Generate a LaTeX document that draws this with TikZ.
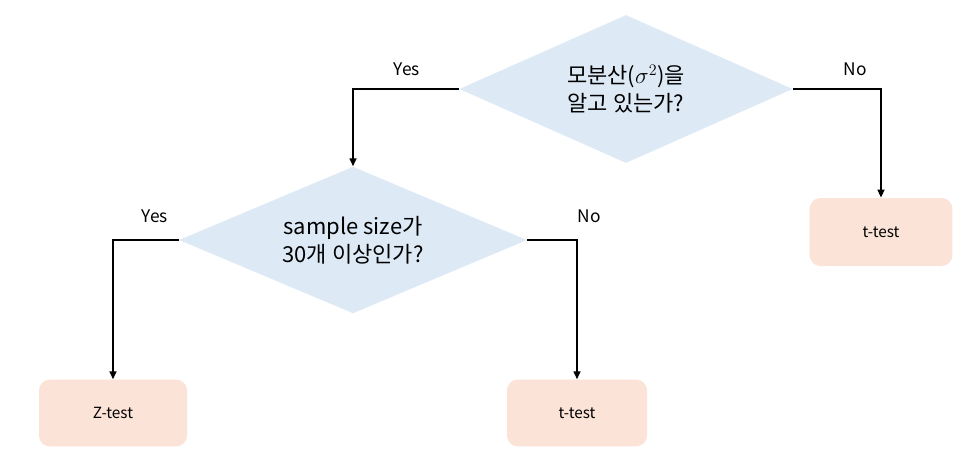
\documentclass[tikz,border=0pt]{standalone}
\usepackage{fontspec}
\setmainfont{Noto Sans CJK KR}
\usetikzlibrary{shapes.geometric,arrows.meta}
\definecolor{qblue}{HTML}{DDEAF6}
\definecolor{rpeach}{HTML}{FBE3D8}
\tikzset{
  question/.style={diamond, fill=qblue, inner sep=0pt, aspect=2.25,
    minimum width=250pt, minimum height=111pt, align=center,
    font=\fontsize{16.5}{21}\selectfont},
  result/.style={rectangle, rounded corners=8pt, fill=rpeach,
    minimum width=107pt, minimum height=51pt,
    font=\fontsize{11.5}{13}\selectfont},
  answer/.style={font=\fontsize{13}{15}\selectfont},
  flow/.style={-{Triangle[length=6pt,width=5pt]}, line width=1.5pt},
}
\begin{document}
\begin{tikzpicture}[x=0.75pt, y=-0.75pt]
                    \useasboundingbox (0,0) rectangle (978,468);
                    % Questions
                    \node[question] (q1) at (626,89) {모분산($\sigma^{2}$)을\\알고 있는가?};
                    \node[question, minimum width=261pt, minimum height=110pt] (q2) at (353,240) {sample size가\\30개 이상인가?};
                    % Results
                    \node[result] (r1) at (881,232) {t-test};
                    \node[result, minimum width=111pt, minimum height=50pt] (r2) at (113,413) {Z-test};
                    \node[result, minimum width=105pt, minimum height=50pt] (r3) at (577,413) {t-test};
                    % Answers
                    \node[answer] (y1) at (407,69) {Yes};
                    \node[answer] (n1) at (855,69) {No};
                    \node[answer] (y2) at (155,216) {Yes};
                    \node[answer] (n2) at (589,216) {No};
                    % Arrows
                    \draw[flow] (q1.west) -| (q2.north);
                    \draw[flow] (q1.east) -| (r1.north);
                    \draw[flow] (q2.west) -| (r2.north);
                    \draw[flow] (q2.east) -| (r3.north);
                \end{tikzpicture}
\end{document}
